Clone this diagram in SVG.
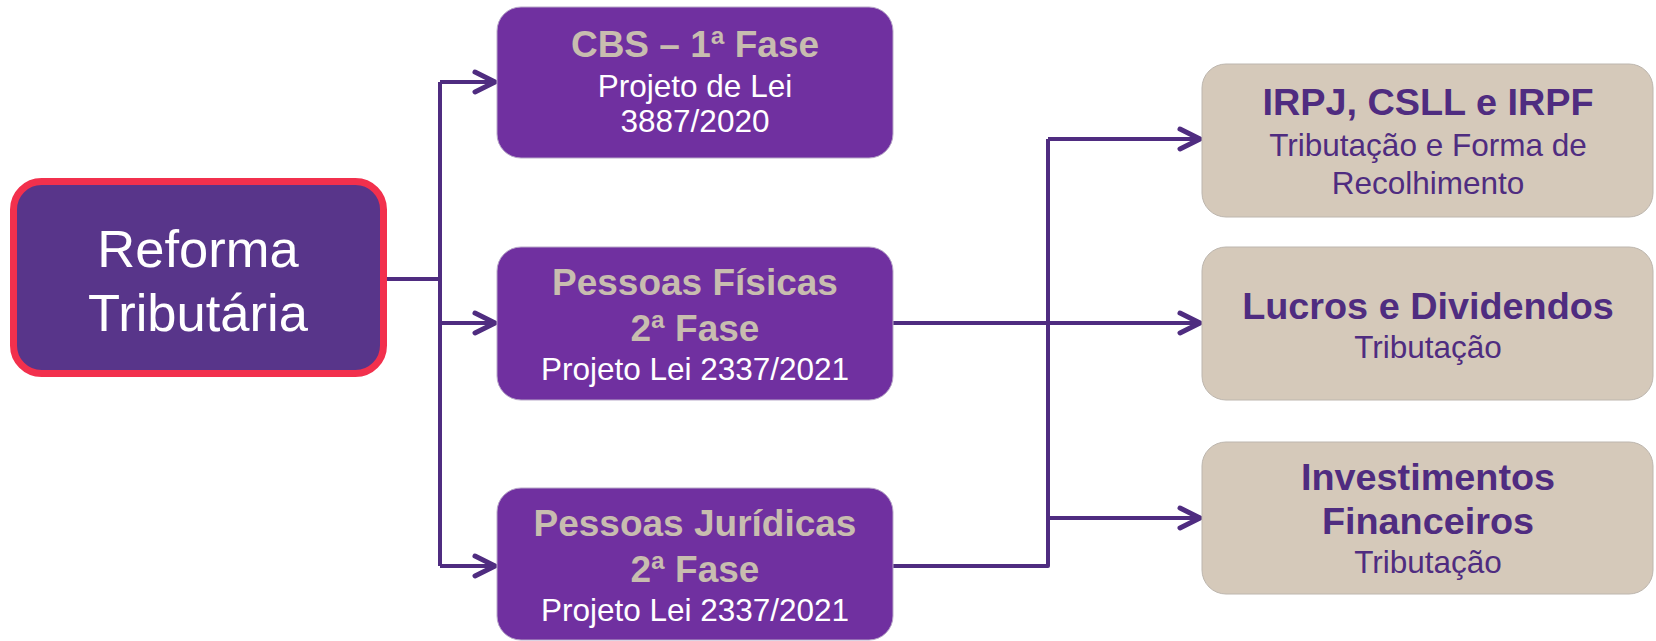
<svg xmlns="http://www.w3.org/2000/svg" width="1656" height="641" viewBox="0 0 1656 641">
<style>
.box{fill:#7030A0;stroke:#B9A9C9;stroke-width:1}
.tan{fill:#D5C9BA;stroke:#BDB6AE;stroke-width:1}
.t{font-family:"Liberation Sans",Arial,sans-serif;text-anchor:middle}
.b{font-weight:bold;font-size:37px}
.bb{font-weight:bold;font-size:37.8px}
.r{font-size:31.5px}
.bt{fill:#C8BDAF}
.w{fill:#FFFFFF}
.dp{fill:#4F2C80}
.c{fill:none;stroke:#4F2C80;stroke-width:4;stroke-linejoin:round}
</style>
<defs>
<marker id="ah" markerUnits="userSpaceOnUse" markerWidth="30" markerHeight="30" viewBox="-24 -15 30 30" refX="0" refY="0" orient="auto">
<path d="M-20,-10 L0,0 L-20,10" fill="none" stroke="#4F2C80" stroke-width="5" stroke-linecap="round" stroke-linejoin="round"/>
</marker>
</defs>
<g id="connectors">
<path class="c" d="M387,279 H440"/>
<path class="c" d="M440,82 V566"/>
<path class="c" d="M440,82 H495" marker-end="url(#ah)"/>
<path class="c" d="M440,323 H495" marker-end="url(#ah)"/>
<path class="c" d="M440,566 H495" marker-end="url(#ah)"/>
<path class="c" d="M893,323 H1200" marker-end="url(#ah)"/>
<path class="c" d="M893,566 H1048 V139"/>
<path class="c" d="M1048,139 H1200" marker-end="url(#ah)"/>
<path class="c" d="M1048,518 H1200" marker-end="url(#ah)"/>
</g>
<g id="reforma">
<rect x="13.5" y="181.5" width="370" height="192" rx="28" fill="#58358A" stroke="#F2304D" stroke-width="7"/>
<text class="t w" x="198" y="267" font-size="52.5">Reforma</text>
<text class="t w" x="198" y="331" font-size="52.5">Tributária</text>
</g>
<g id="cbs">
<rect class="box" x="497" y="7" width="396" height="151" rx="24"/>
<text class="t b bt" x="695" y="57">CBS – 1ª Fase</text>
<text class="t r w" x="695" y="97">Projeto de Lei</text>
<text class="t r w" x="695" y="132">3887/2020</text>
</g>
<g id="pf">
<rect class="box" x="497" y="247" width="396" height="153" rx="24"/>
<text class="t b bt" x="695" y="295">Pessoas Físicas</text>
<text class="t b bt" x="695" y="341">2ª Fase</text>
<text class="t r w" x="695" y="380">Projeto Lei 2337/2021</text>
</g>
<g id="pj">
<rect class="box" x="497" y="488" width="396" height="152" rx="24"/>
<text class="t b bt" x="695" y="536">Pessoas Jurídicas</text>
<text class="t b bt" x="695" y="582">2ª Fase</text>
<text class="t r w" x="695" y="621">Projeto Lei 2337/2021</text>
</g>
<g id="irpj">
<rect class="tan" x="1202" y="64" width="451" height="153" rx="24"/>
<text class="t bb dp" x="1428" y="115">IRPJ, CSLL e IRPF</text>
<text class="t r dp" x="1428" y="156">Tributação e Forma de</text>
<text class="t r dp" x="1428" y="194">Recolhimento</text>
</g>
<g id="lucros">
<rect class="tan" x="1202" y="247" width="451" height="153" rx="24"/>
<text class="t bb dp" x="1428" y="319">Lucros e Dividendos</text>
<text class="t r dp" x="1428" y="358">Tributação</text>
</g>
<g id="invest">
<rect class="tan" x="1202" y="442" width="451" height="152" rx="24"/>
<text class="t bb dp" x="1428" y="490">Investimentos</text>
<text class="t bb dp" x="1428" y="534">Financeiros</text>
<text class="t r dp" x="1428" y="573">Tributação</text>
</g>
</svg>
